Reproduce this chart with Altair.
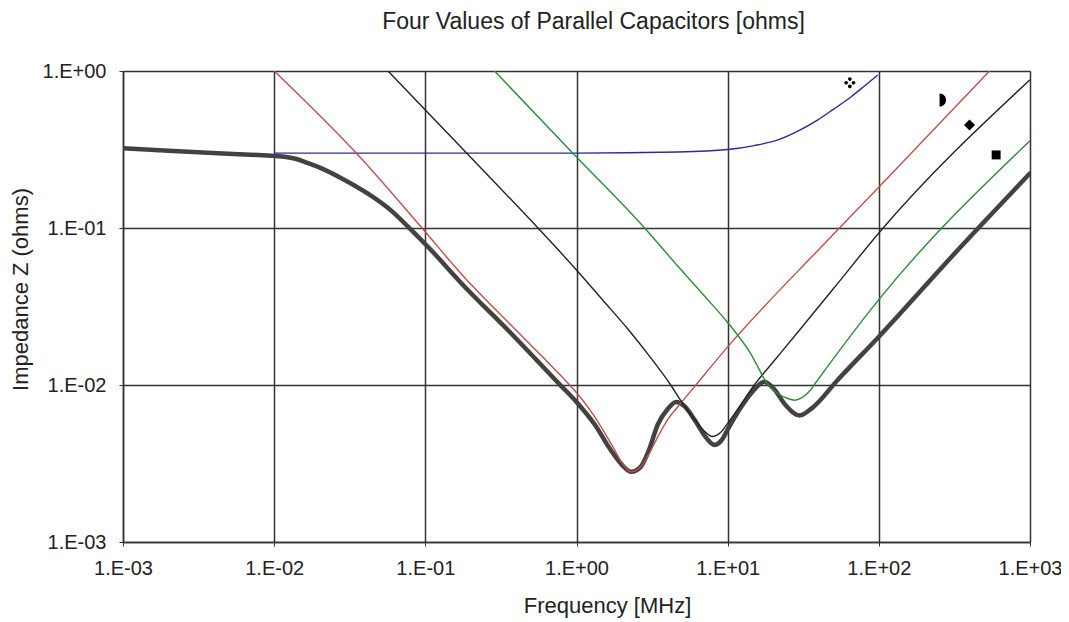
import altair as alt
import pandas as pd

# ---- data (frequency in MHz, impedance in ohms) ----
f_total = [0.001, 0.002, 0.00425, 0.007, 0.01, 0.012, 0.014, 0.016, 0.0195, 0.028, 0.0415, 0.06,
           0.0767, 0.109, 0.173, 0.37, 0.773, 1.0, 1.32, 1.7, 2.0, 2.3, 2.65, 3.0, 3.45, 4.0, 4.56,
           5.2, 6.04, 7.0, 8.2, 9.2, 10.0, 12.0, 14.5, 17.5, 20.5, 24.0, 30.0, 36.0, 53.6, 100, 333,
           1000]
z_total = [0.322, 0.31, 0.299, 0.293, 0.288, 0.283, 0.275, 0.263, 0.245, 0.207, 0.166, 0.128,
           0.102, 0.0724, 0.0445, 0.0213, 0.0101, 0.0078, 0.0056, 0.0038, 0.0031, 0.0028, 0.0030,
           0.0038, 0.0056, 0.0070, 0.0078, 0.0073, 0.0060, 0.0048, 0.00415, 0.0045, 0.0052, 0.0070,
           0.0090, 0.0105, 0.0093, 0.0075, 0.0064, 0.0071, 0.0108, 0.0203, 0.0724, 0.223]

f_blue = [0.01, 0.1, 1.0, 4.7, 10, 15, 21.5, 30, 39.5, 50, 65.6, 80, 98.4]
z_blue = [0.30, 0.30, 0.30, 0.305, 0.316, 0.335, 0.364, 0.42, 0.488, 0.57, 0.686, 0.80, 0.944]

f_red = [0.01, 0.0349, 0.095, 0.173, 0.37, 0.6, 0.9, 1.1, 1.3, 1.7, 2.0, 2.3, 2.65, 3.0, 3.5, 4.0,
         4.7, 6.0, 10, 39.5, 98.4, 540]
z_red = [1.0, 0.30, 0.10, 0.051, 0.024, 0.0150, 0.0100, 0.0080, 0.0064, 0.0042, 0.0032, 0.0028,
         0.0030, 0.0036, 0.0048, 0.0060, 0.0073, 0.0097, 0.0175, 0.072, 0.179, 1.0]

f_black = [0.0566, 0.1, 0.188, 0.556, 1.0, 1.5, 2.18, 3.0, 4.2, 4.8, 6.0, 7.0, 7.9, 9.0, 10, 12, 15,
           20, 30, 50, 100, 1000]
z_black = [1.0, 0.565, 0.299, 0.10, 0.054, 0.0345, 0.0228, 0.0155, 0.0100, 0.0082, 0.0061, 0.0051,
           0.0047, 0.0050, 0.0057, 0.0073, 0.0100, 0.0140, 0.0225, 0.041, 0.093, 0.88]

f_green = [0.287, 0.946, 2.82, 4.69, 7.0, 10, 12, 14, 16, 18, 20, 22, 25, 27.7, 31, 35, 39.5, 100,
           1000]
z_green = [1.0, 0.299, 0.1, 0.057, 0.037, 0.025, 0.0200, 0.0162, 0.0128, 0.0104, 0.0093, 0.0087,
           0.0082, 0.0080, 0.0083, 0.0092, 0.0108, 0.035, 0.36]

series_names = ["blue", "red", "black", "green"]
series_colors = ["#2b2b9a", "#c05048", "#222222", "#2e8b3a"]

# marker glyphs next to the curve ends (four dots, half disc, diamond, square)
marker_shapes = [
    "M-0.3,-0.6 a0.3,0.3 0 1,0 0.6,0 a0.3,0.3 0 1,0 -0.6,0 "
    "M0.3,0 a0.3,0.3 0 1,0 0.6,0 a0.3,0.3 0 1,0 -0.6,0 "
    "M-0.3,0.6 a0.3,0.3 0 1,0 0.6,0 a0.3,0.3 0 1,0 -0.6,0 "
    "M-0.9,0 a0.3,0.3 0 1,0 0.6,0 a0.3,0.3 0 1,0 -0.6,0",
    "M-0.5,-1 A1,1 0 0,1 -0.5,1 Z",
    "diamond",
    "square",
]
marker_sizes = [150, 170, 120, 80]
marker_f = [64.3, 265, 398, 597]
marker_z = [0.842, 0.653, 0.453, 0.292]

x_ticks = [0.001, 0.01, 0.1, 1, 10, 100, 1000]
y_ticks = [0.001, 0.01, 0.1, 1]

# ---- tables ----
rows = []
for name, fs, zs in [("blue", f_blue, z_blue), ("red", f_red, z_red),
                     ("black", f_black, z_black), ("green", f_green, z_green)]:
    for i, (f, z) in enumerate(zip(fs, zs)):
        rows.append({"series": name, "f": f, "z": z, "i": i})
thin_df = pd.DataFrame(rows)
total_df = pd.DataFrame({"f": f_total, "z": z_total, "i": list(range(len(f_total)))})
marker_df = pd.DataFrame({"f": marker_f, "z": marker_z, "shape": marker_shapes, "size": marker_sizes})

FONT = "Liberation Sans"
label_expr = ("'1.E' + (round(log(datum.value)/LN10) >= 0 ? '+' : '-') + "
              "(abs(round(log(datum.value)/LN10)) < 10 ? '0' : '') + abs(round(log(datum.value)/LN10))")

xscale = alt.Scale(type="log", domain=[0.001, 1000], nice=False)
yscale = alt.Scale(type="log", domain=[0.001, 1], nice=False)

x_axis = alt.Axis(values=x_ticks, labelExpr=label_expr, title="Frequency [MHz]",
                  grid=True, gridColor="#333333", gridWidth=1.5, gridOpacity=1,
                  domainColor="#333333", domainWidth=1.5, tickColor="#333333", tickSize=4,
                  labelFont=FONT, labelFontSize=20, labelColor="#222222", labelPadding=12,
                  labelFlush=False, labelOverlap=False,
                  titleFont=FONT, titleFontSize=22, titleFontWeight="normal", titleColor="#222222",
                  titleX=484, titleY=63, titleBaseline="middle")
y_axis = alt.Axis(values=y_ticks, labelExpr=label_expr, title="Impedance Z (ohms)",
                  grid=True, gridColor="#333333", gridWidth=1.5, gridOpacity=1,
                  domainColor="#333333", domainWidth=1.5, tickColor="#333333", tickSize=4,
                  labelFont=FONT, labelFontSize=20, labelColor="#222222", labelPadding=13,
                  labelFlush=False, labelOverlap=False,
                  titleFont=FONT, titleFontSize=22, titleFontWeight="normal", titleColor="#222222",
                  titleX=-103, titleY=218, titleBaseline="middle")

x_enc = alt.X("f:Q", scale=xscale, axis=x_axis)
y_enc = alt.Y("z:Q", scale=yscale, axis=y_axis)

total_line = alt.Chart(total_df).mark_line(color="#424242", strokeWidth=4.5, clip=True,
                                           interpolate="monotone",
                                           strokeJoin="round", strokeCap="round").encode(
    x=x_enc, y=y_enc, order="i:Q")

thin_lines = alt.Chart(thin_df).mark_line(strokeWidth=1.4, clip=True, interpolate="monotone").encode(
    x=x_enc, y=y_enc,
    color=alt.Color("series:N", scale=alt.Scale(domain=series_names, range=series_colors), legend=None),
    order="i:Q")

markers = alt.Chart(marker_df).mark_point(filled=True, color="black", opacity=1).encode(
    x=x_enc, y=y_enc,
    shape=alt.Shape("shape:N", scale=None),
    size=alt.Size("size:Q", scale=None))

chart = alt.layer(total_line, thin_lines, markers).properties(
    width=907, height=471,
    title=alt.TitleParams("Four Values of Parallel Capacitors [ohms]", font=FONT, fontSize=23,
                          fontWeight="normal", color="#222222", anchor="middle", frame="group",
                          dx=17, offset=27),
    autosize=alt.AutoSizeParams(type="none"),
    padding={"left": 115, "top": 63, "right": 31, "bottom": 80},
).configure_view(stroke="#333333", strokeWidth=1.5).configure(background="white")

chart.save("out.html", embed_options={"renderer": "svg", "actions": False})
